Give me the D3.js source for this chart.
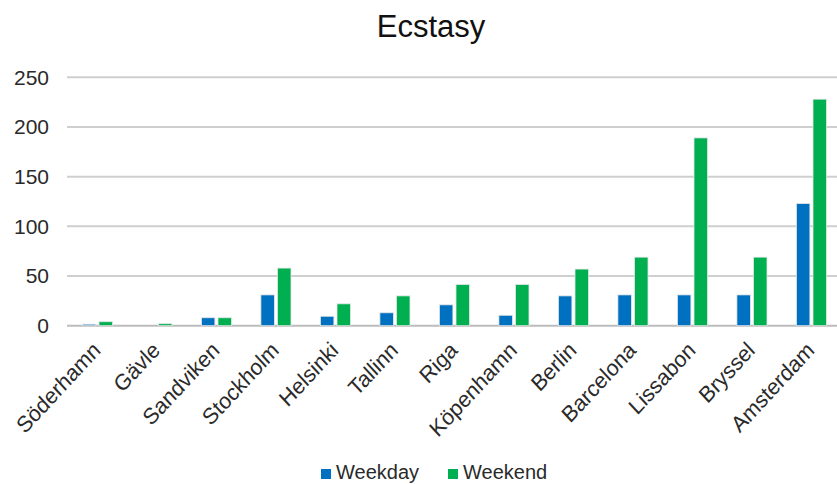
<!DOCTYPE html>
<html>
<head>
<meta charset="utf-8">
<script src="https://cdn.jsdelivr.net/npm/d3@7"></script>
<style>
  html, body { margin: 0; padding: 0; background: #fff; }
  svg { display: block; font-family: "Liberation Sans", Arial, sans-serif; }
</style>
</head>
<body>
<svg id="chart" width="837" height="484"></svg>
<script>
const title = "Ecstasy";
const categories = ["Söderhamn", "Gävle", "Sandviken", "Stockholm", "Helsinki", "Tallinn", "Riga", "Köpenhamn", "Berlin", "Barcelona", "Lissabon", "Bryssel", "Amsterdam"];
const seriesNames = ["Weekday", "Weekend"];
const weekday = [1.5, 0, 8, 31, 9.5, 13, 21, 10.5, 30, 31, 31, 31, 123];
const weekend = [4, 2, 8, 58, 22, 30, 41.5, 41.5, 57, 69, 189, 69, 228];
const yTicks = [0, 50, 100, 150, 200, 250];
const colors = ["#0070c0", "#00b050"];

const svg = d3.select("#chart");
const W = 837, H = 484;

const x = d3.scaleBand().domain(categories).range([67.7, 841.2]).padding(0);
const y = d3.scaleLinear().domain([0, 250]).range([325.7, 77.3]);

// gridlines
svg.append("g").selectAll("line").data(yTicks).join("line")
  .attr("x1", 67).attr("x2", W)
  .attr("y1", d => y(d)).attr("y2", d => y(d))
  .attr("stroke", d => d === 0 ? "#bcbcbc" : "#cfcfcf")
  .attr("stroke-width", 2);

// y axis labels
const yAxis = d3.axisLeft(y).tickValues(yTicks).tickSize(0).tickPadding(0);
const ya = svg.append("g").attr("transform", "translate(49,0)").call(yAxis);
ya.select(".domain").remove();
ya.selectAll("text").attr("font-size", 21).attr("fill", "#2a2a2a")
  .attr("font-family", "'Liberation Sans', Arial, sans-serif");

// bars
const barW = 13.5, off = 8.3;
const series = [weekday, weekend];
series.forEach((vals, si) => {
  svg.append("g").selectAll("rect").data(categories).join("rect")
    .attr("x", (c) => x(c) + x.bandwidth() / 2 + (si === 0 ? -off : off) - barW / 2)
    .attr("width", barW)
    .attr("y", (c, i) => y(vals[i]))
    .attr("height", (c, i) => y(0) - y(vals[i]))
    .attr("fill", colors[si])
    .attr("stroke", "#e6e6e6")
    .attr("stroke-width", 0.8);
});

// category labels
svg.append("g").selectAll("text").data(categories).join("text")
  .attr("transform", c => `translate(${x(c) + x.bandwidth() / 2 - 1},346) scale(1,1.08) rotate(-45)`)
  .attr("text-anchor", "end")
  .attr("dy", "0.35em")
  .attr("font-size", 21)
  .attr("fill", "#2a2a2a")
  .text(c => c);

// title
svg.append("text")
  .attr("x", 431).attr("y", 37)
  .attr("text-anchor", "middle")
  .attr("font-size", 31)
  .attr("fill", "#111")
  .text(title);

// legend
const legendX = [321, 448];
const lg = svg.append("g");
seriesNames.forEach((name, i) => {
  lg.append("rect").attr("x", legendX[i]).attr("y", 469).attr("width", 10).attr("height", 10).attr("fill", colors[i]);
  lg.append("text").attr("x", legendX[i] + 15).attr("y", 479)
    .attr("font-size", 20).attr("fill", "#2a2a2a").text(name);
});
</script>
</body>
</html>
